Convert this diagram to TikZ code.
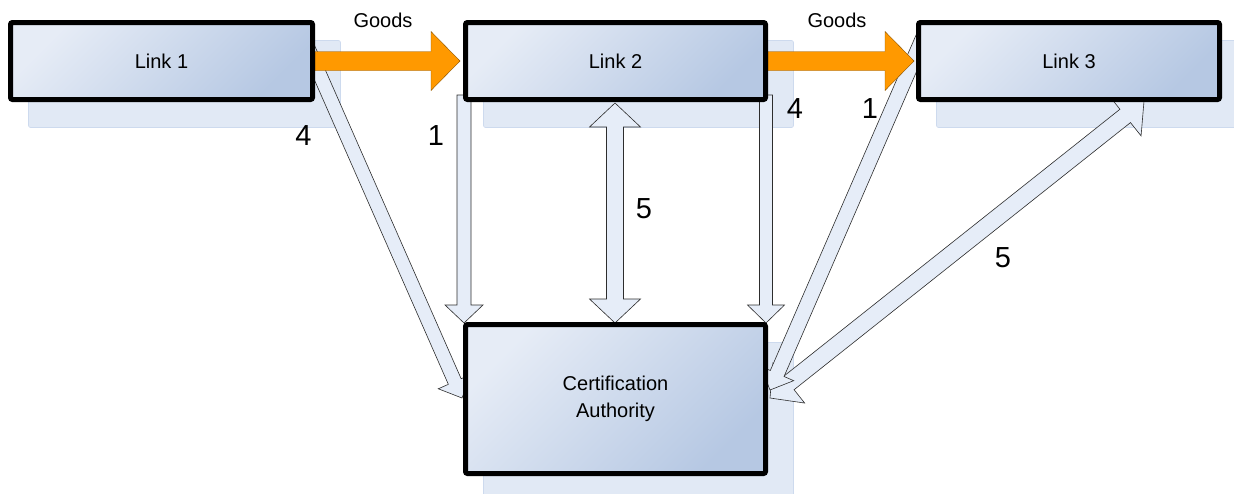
\documentclass[tikz,border=0pt]{standalone}
\usepackage{fontspec}
\setmainfont{Liberation Sans}
\usetikzlibrary{calc}
\definecolor{boxlight}{RGB}{230,236,246}
\definecolor{boxdark}{RGB}{182,200,227}
\definecolor{arrfill}{RGB}{230,237,248}
\definecolor{arrline}{RGB}{45,45,45}
\definecolor{goodsorange}{RGB}{255,153,0}
\definecolor{shadowfill}{RGB}{225,233,245}
\definecolor{shadowline}{RGB}{205,218,238}
\pgfdeclarelayer{bg}
\pgfdeclarelayer{arrows}
\pgfsetlayers{bg,arrows,main}
% style, start, tip, half shaft width, half head width, head length
\newcommand\blockarr[6]{%
  \coordinate (tmpb) at ($(#3)!#6!(#2)$);
  \path[#1] ($(#2)!#4!90:(#3)$) -- ($(tmpb)!#4!-90:(#2)$) -- ($(tmpb)!#5!-90:(#2)$)
    -- (#3) -- ($(tmpb)!#5!90:(#2)$) -- ($(tmpb)!#4!90:(#2)$) -- ($(#2)!#4!-90:(#3)$) -- cycle;
}
% style, tip 1, tip 2, half shaft width, half head width, head length
\newcommand\dblarr[6]{%
  \coordinate (tmpa) at ($(#2)!#6!(#3)$);
  \coordinate (tmpb) at ($(#3)!#6!(#2)$);
  \path[#1] (#2) -- ($(tmpa)!#5!90:(#3)$) -- ($(tmpa)!#4!90:(#3)$) -- ($(tmpb)!#4!-90:(#2)$)
    -- ($(tmpb)!#5!-90:(#2)$) -- (#3) -- ($(tmpb)!#5!90:(#2)$) -- ($(tmpb)!#4!90:(#2)$)
    -- ($(tmpa)!#4!-90:(#3)$) -- ($(tmpa)!#5!-90:(#3)$) -- cycle;
}
\begin{document}
\begin{tikzpicture}[x=1pt,y=-1pt,
  box/.style={draw=black, line width=5pt, rounded corners=2pt,
    top color=boxlight, bottom color=boxdark, shading angle=45,
    inner sep=0pt, align=center, font=\fontsize{20}{27}\selectfont},
  shadowbox/.style={fill=shadowfill, draw=shadowline, line width=0.6pt, rounded corners=2pt},
  blockarrow/.style={fill=arrfill, draw=arrline, line width=0.6pt, line join=miter},
  goodsarrow/.style={fill=goodsorange, draw=goodsorange!55!black, line width=0.4pt, line join=miter},
  lbl/.style={inner sep=0pt, font=\fontsize{20}{24}\selectfont},
  num/.style={inner sep=0pt, font=\fontsize{29}{34}\selectfont}]
\useasboundingbox (0,0) rectangle (1234,493);

% boxes
\node[box, minimum width=302pt, minimum height=77pt] (l1) at (161.5,61) {Link 1};
\node[box, minimum width=300pt, minimum height=77pt] (l2) at (615.5,61) {Link 2};
\node[box, minimum width=301pt, minimum height=77pt] (l3) at (1069,61) {Link 3};
\node[box, minimum width=300pt, minimum height=149pt] (ca) at (615.5,399) {Certification\\Authority};

% shadows
\begin{pgfonlayer}{bg}
\foreach \n in {l1,l2,l3,ca}
  \path[shadowbox] ([shift={(20.5,20.5)}]\n.north west) rectangle ([shift={(25.5,25.5)}]\n.south east);
\end{pgfonlayer}

% connector end points
\coordinate (aS) at (464,95);   \coordinate (aT) at (464,323);
\coordinate (bS) at (766,95);   \coordinate (bT) at (766,323);
\coordinate (cT1) at (615,103); \coordinate (cT2) at (615,323);
\coordinate (dS) at (301,32);   \coordinate (dT) at (462,398);
\coordinate (eS) at (926,31);   \coordinate (eT) at (770,390);
\coordinate (fT1) at (770,398); \coordinate (fT2) at (1144,101);
\coordinate (o1S) at (l1.east); \coordinate (o1T) at ([xshift=-3pt]l2.west);
\coordinate (o2S) at (l2.east); \coordinate (o2T) at ([xshift=-2pt]l3.west);

\begin{pgfonlayer}{arrows}
\blockarr{blockarrow}{dS}{dT}{7pt}{18pt}{18pt}
\blockarr{blockarrow}{aS}{aT}{7pt}{19pt}{18pt}
\blockarr{blockarrow}{bS}{bT}{6.5pt}{18.5pt}{18pt}
\dblarr{blockarrow}{cT1}{cT2}{8.5pt}{25.5pt}{24pt}
\dblarr{blockarrow}{fT1}{fT2}{8.5pt}{25.5pt}{24pt}
\blockarr{blockarrow}{eS}{eT}{7.5pt}{18pt}{18pt}
\blockarr{goodsarrow}{o1S}{o1T}{9.5pt}{29.5pt}{29pt}
\blockarr{goodsarrow}{o2S}{o2T}{9.5pt}{29.5pt}{29pt}
\end{pgfonlayer}

% labels
\node[lbl] (g1) at (383,20.5) {Goods};
\node[lbl] (g2) at (837,20.5) {Goods};
\node[num] (n4a) at (303.5,136) {4};
\node[num] (n1a) at (436,136) {1};
\node[num] (n5a) at (644,209) {5};
\node[num] (n4b) at (795,109) {4};
\node[num] (n1b) at (870,109) {1};
\node[num] (n5b) at (1003,258) {5};
\end{tikzpicture}
\end{document}
